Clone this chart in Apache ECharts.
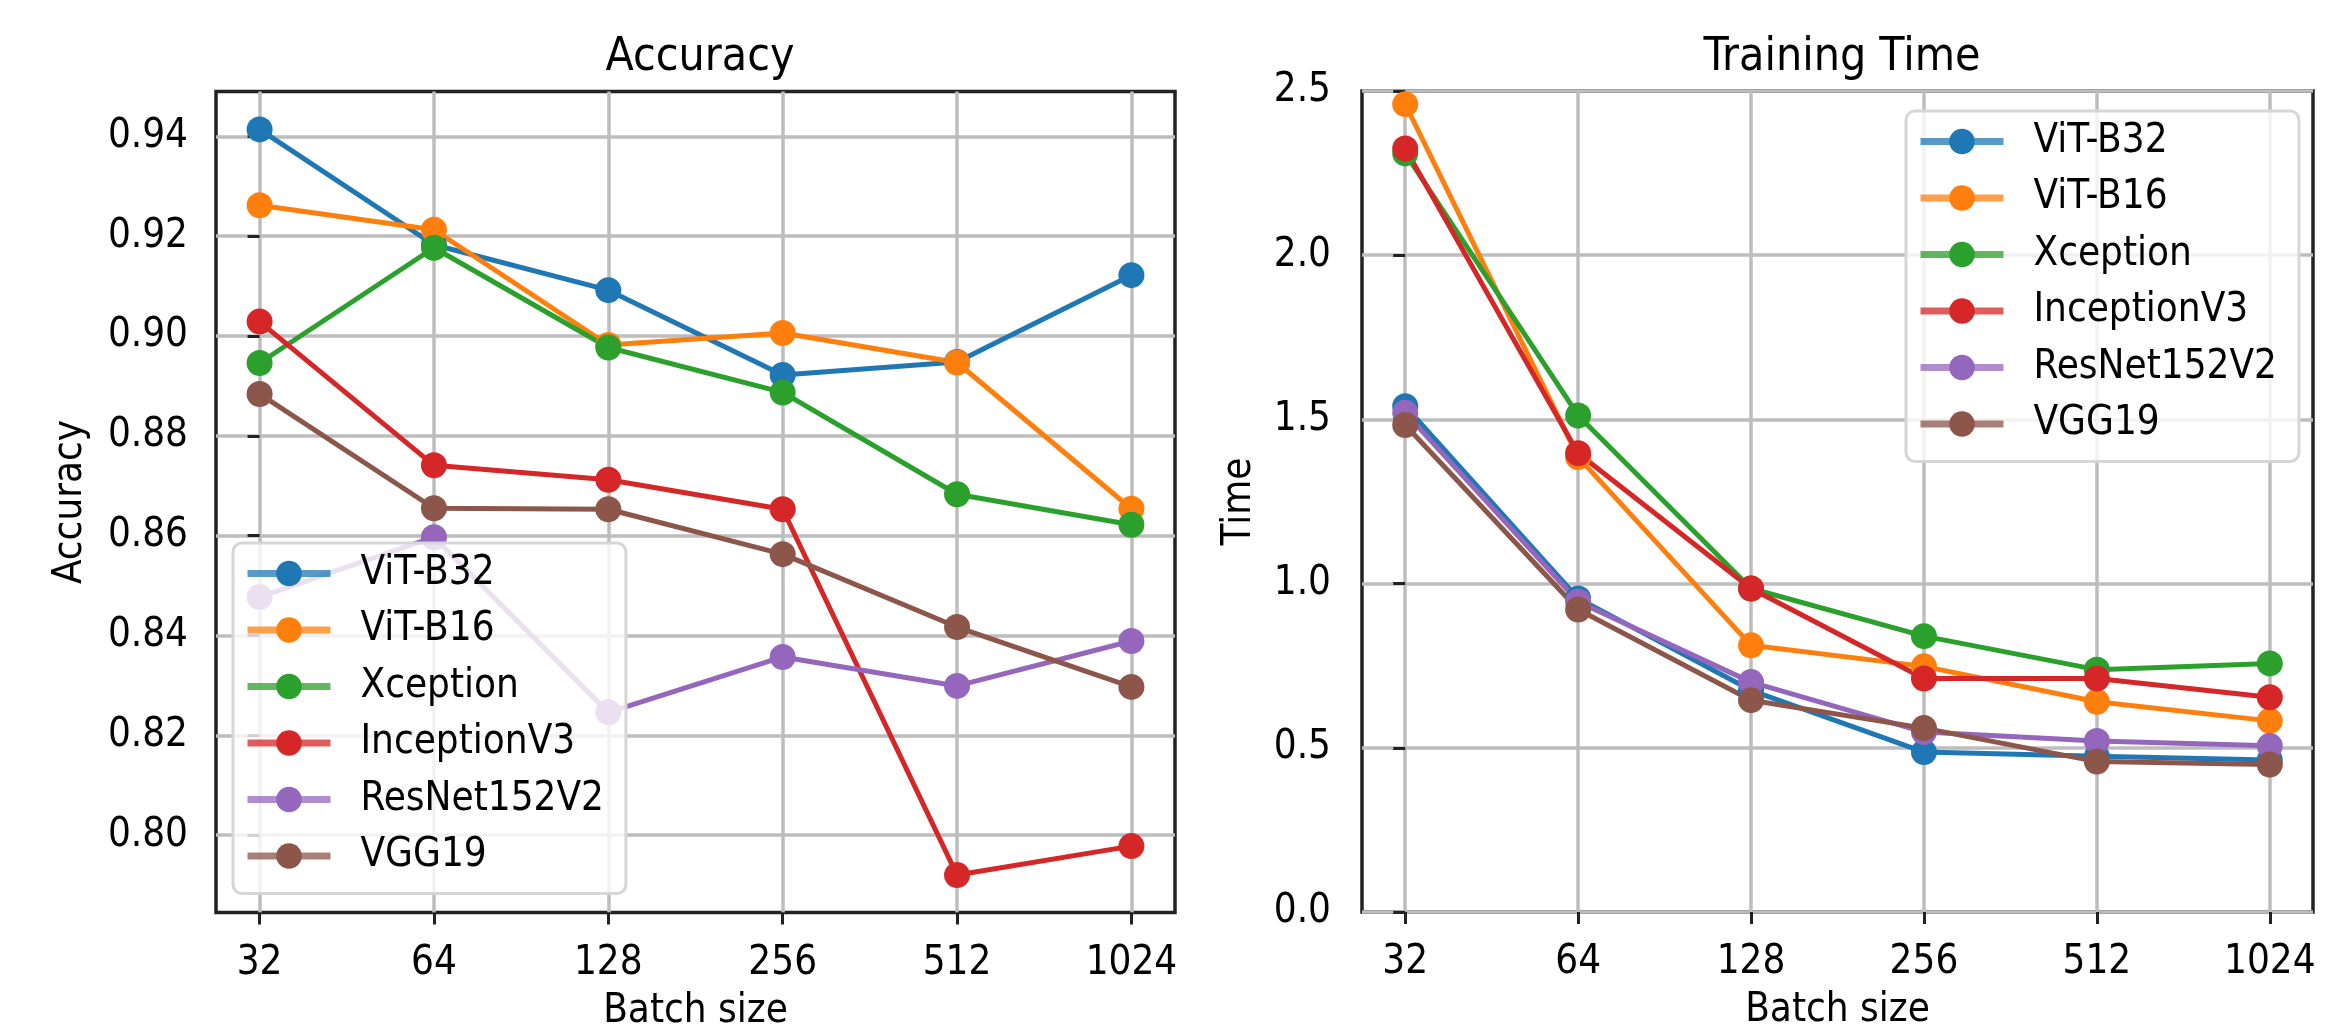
<!DOCTYPE html>
<html>
<head>
<meta charset="utf-8">
<script src="https://cdn.jsdelivr.net/npm/echarts@6/dist/echarts.min.js"></script>
<style>
html,body{margin:0;padding:0;background:#fff;}
#c{width:2347px;height:1028px;}
</style>
</head>
<body>
<div id="c"></div>
<script>
const batchSizes = ['32', '64', '128', '256', '512', '1024'];
const models = ['ViT-B32', 'ViT-B16', 'Xception', 'InceptionV3', 'ResNet152V2', 'VGG19'];
const colors = ['#1f77b4', '#ff7f0e', '#2ca02c', '#d62728', '#9467bd', '#8c564b'];

// Accuracy per batch size
const accViTB32 = [0.9414, 0.9183, 0.9092, 0.8922, 0.8948, 0.9122];
const accViTB16 = [0.9262, 0.9213, 0.8982, 0.9006, 0.8947, 0.8654];
const accXception = [0.8946, 0.9177, 0.8977, 0.8887, 0.8683, 0.8622];
const accInceptionV3 = [0.9029, 0.8741, 0.8712, 0.8653, 0.7920, 0.7978];
const accResNet152V2 = [0.8477, 0.8597, 0.8246, 0.8357, 0.8299, 0.8389];
const accVGG19 = [0.8884, 0.8655, 0.8653, 0.8563, 0.8417, 0.8297];

// Training time per batch size
const timeViTB32 = [1.540, 0.955, 0.675, 0.487, 0.474, 0.463];
const timeViTB16 = [2.460, 1.385, 0.812, 0.748, 0.640, 0.582];
const timeXception = [2.310, 1.512, 0.985, 0.840, 0.738, 0.757];
const timeInceptionV3 = [2.325, 1.397, 0.985, 0.711, 0.711, 0.654];
const timeResNet152V2 = [1.520, 0.945, 0.700, 0.548, 0.521, 0.506];
const timeVGG19 = [1.483, 0.921, 0.645, 0.560, 0.458, 0.449];

const accTicks = [0.80, 0.82, 0.84, 0.86, 0.88, 0.90, 0.92, 0.94];

const accAll = [accViTB32, accViTB16, accXception, accInceptionV3, accResNet152V2, accVGG19];
const timeAll = [timeViTB32, timeViTB16, timeXception, timeInceptionV3, timeResNet152V2, timeVGG19];

const FONT = "'DejaVu Sans Condensed', 'DejaVu Sans', sans-serif";
const xIdx = batchSizes.map((_, i) => i);
const GRID_COLOR = '#bdbdbd';

function xAxisCfg(gi) {
  return {
    type: 'value', gridIndex: gi, min: -0.25, max: 5.25,
    axisLine: { show: false },
    axisTick: { show: true, customValues: xIdx, length: 12, lineStyle: { color: '#222', width: 3 } },
    axisLabel: { customValues: xIdx, formatter: v => batchSizes[Math.round(v)], fontFamily: FONT, fontSize: 40, color: '#000', margin: 31 },
    splitLine: { show: true, lineStyle: { color: GRID_COLOR, width: 3.5 } },
    name: 'Batch size', nameLocation: 'middle', nameGap: 79,
    nameTextStyle: { fontFamily: FONT, fontSize: 40, color: '#000' }
  };
}

const series = [];
models.forEach((m, k) => {
  [accAll[k], timeAll[k]].forEach((arr, gi) => {
    series.push({
      name: m, type: 'line', xAxisIndex: gi, yAxisIndex: gi,
      data: arr.map((v, i) => [i, v]),
      symbol: 'circle', symbolSize: 26,
      lineStyle: { width: 5, color: colors[k] },
      itemStyle: { color: colors[k] },
      emphasis: { disabled: true },
      animation: false
    });
  });
});

function legendCfg(left, top) {
  return {
    orient: 'vertical', left: left, top: top,
    data: models,
    itemWidth: 83, itemHeight: 32, itemGap: 16.5,
    padding: [10.5, 22, 17.5, 11],
    backgroundColor: 'rgba(255,255,255,0.8)',
    borderColor: '#d6d6d6', borderWidth: 3, borderRadius: 9,
    textStyle: { fontFamily: FONT, fontSize: 40, lineHeight: 40, color: '#000', padding: [0, 0, 0, 25] },
    selectedMode: false,
    lineStyle: { opacity: 0.75, width: 7 }
  };
}

const option = {
  animation: false,
  backgroundColor: '#fff',
  color: colors,
  title: [
    { text: 'Accuracy', left: 695, top: 30, textAlign: 'center',
      textStyle: { fontFamily: FONT, fontSize: 46, fontWeight: 'normal', color: '#000' } },
    { text: 'Training Time', left: 1837, top: 30, textAlign: 'center',
      textStyle: { fontFamily: FONT, fontSize: 46, fontWeight: 'normal', color: '#000' } }
  ],
  grid: [
    { left: 216, top: 91.5, width: 959, height: 821, show: true, borderColor: '#222', borderWidth: 3.5, containLabel: false, outerBoundsMode: 'none' },
    { left: 1362, top: 91, width: 951, height: 821, show: true, borderColor: '#222', borderWidth: 3.5, containLabel: false, outerBoundsMode: 'none' }
  ],
  xAxis: [xAxisCfg(0), xAxisCfg(1)],
  yAxis: [
    {
      type: 'value', gridIndex: 0, min: 0.7845, max: 0.949,
      axisLine: { show: false },
      axisTick: { show: true, customValues: accTicks, length: 12, lineStyle: { color: '#222', width: 3 } },
      axisLabel: { customValues: accTicks, formatter: v => v.toFixed(2), fontFamily: FONT, fontSize: 40, color: '#000', margin: 28 },
      splitLine: { show: true, lineStyle: { color: GRID_COLOR, width: 3.5 } },
      name: 'Accuracy', nameLocation: 'middle', nameGap: 125,
      nameTextStyle: { fontFamily: FONT, fontSize: 40, color: '#000' }
    },
    {
      type: 'value', gridIndex: 1, min: 0, max: 2.5, interval: 0.5,
      axisLine: { show: false },
      axisTick: { show: true, length: 12, lineStyle: { color: '#222', width: 3 } },
      axisLabel: { formatter: v => v.toFixed(1), fontFamily: FONT, fontSize: 40, color: '#000', margin: 31 },
      splitLine: { show: true, lineStyle: { color: GRID_COLOR, width: 3.5 } },
      name: 'Time', nameLocation: 'middle', nameGap: 102,
      nameTextStyle: { fontFamily: FONT, fontSize: 40, color: '#000' }
    }
  ],
  legend: [legendCfg(233, 543), legendCfg(1906, 111)],
  series: series
};

const chart = echarts.init(document.getElementById('c'), null, { renderer: 'canvas' });
chart.setOption(option);
</script>
</body>
</html>
